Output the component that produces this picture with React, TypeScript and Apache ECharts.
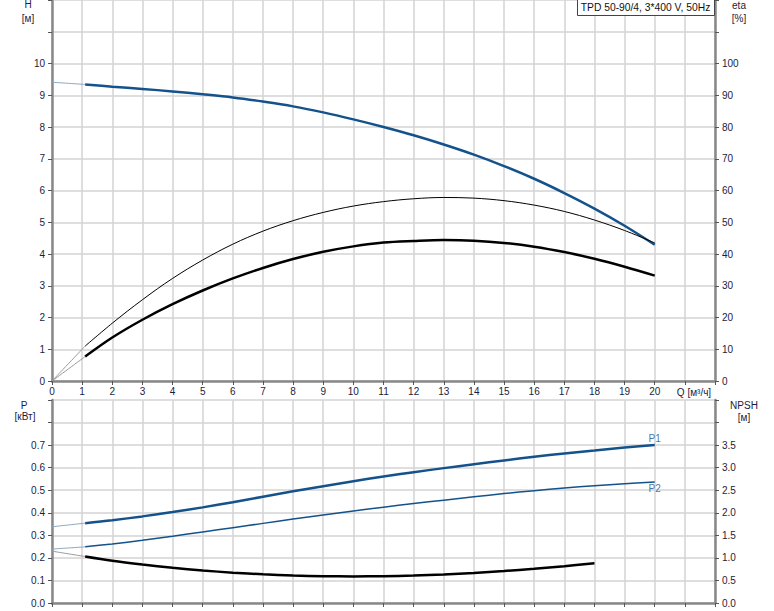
import React, { useEffect, useRef } from "react";
import * as echarts from "echarts";

// Flow axis (m³/h)
const Q_MAIN = [1.1, 2, 3, 4, 5, 6, 7, 8, 9, 10, 11, 12, 13, 14, 15, 16, 17, 18, 19, 20];
const Q_LOW = [0, 1.1];
const Q_NPSH = [1.1, 2, 3, 4, 5, 6, 7, 8, 9, 10, 11, 12, 13, 14, 15, 16, 17, 18];

// Head H [m]
const H_MAIN = [9.34, 9.27, 9.2, 9.12, 9.03, 8.93, 8.8, 8.65, 8.46, 8.24, 8.0, 7.74, 7.45, 7.13, 6.77, 6.37, 5.92, 5.43, 4.89, 4.29];
const H_LOW = [9.41, 9.34];

// Efficiency eta [%] – thin curve and thick curve
const ETA1_MAIN = [11, 18.2, 25.6, 32.3, 38.1, 43.1, 47.2, 50.5, 53.1, 55.1, 56.5, 57.4, 57.8, 57.6, 56.8, 55.4, 53.4, 50.7, 47.4, 43.5];
const ETA1_LOW = [0, 11];
const ETA2_MAIN = [7.7, 13.7, 19.3, 24.2, 28.5, 32.3, 35.6, 38.4, 40.7, 42.4, 43.6, 44.1, 44.4, 44.2, 43.5, 42.3, 40.6, 38.5, 36.0, 33.2];
const ETA2_LOW = [0, 7.7];

// Power P [kW]
const P1_MAIN = [0.354, 0.367, 0.384, 0.403, 0.424, 0.447, 0.471, 0.495, 0.518, 0.54, 0.561, 0.58, 0.598, 0.615, 0.632, 0.648, 0.663, 0.676, 0.689, 0.7];
const P1_LOW = [0.338, 0.354];
const P2_MAIN = [0.249, 0.262, 0.278, 0.296, 0.315, 0.334, 0.353, 0.372, 0.39, 0.408, 0.425, 0.441, 0.456, 0.471, 0.485, 0.498, 0.51, 0.52, 0.529, 0.537];
const P2_LOW = [0.239, 0.249];

// NPSH [m]
const NPSH_MAIN = [1.03, 0.935, 0.852, 0.781, 0.721, 0.673, 0.636, 0.61, 0.595, 0.59, 0.595, 0.61, 0.634, 0.667, 0.709, 0.759, 0.817, 0.883];
const NPSH_LOW = [1.149, 1.03];

const TITLE = "TPD 50-90/4, 3*400 V, 50Hz";

const BLUE = "#14528c";
const BLUE_LIGHT = "#8ea6c0";
const BLACK = "#000000";
const GREY_LIGHT = "#9a9a9a";
const TXT = "#1c1c3c";
const AXIS = "#888888";
const GRID = "#d3d3d3";
const FONT = "Liberation Sans, Arial, sans-serif";

const zip = (xs: number[], ys: number[]) => xs.map((x, i) => [x, ys[i]]);

export default function App() {
  const ref = useRef<HTMLDivElement>(null);
  useEffect(() => {
    if (!ref.current) return;
    const chart = echarts.init(ref.current, undefined, { renderer: "svg" });

    const axisLine = { show: true, lineStyle: { color: AXIS, width: 2.5 } };
    const axisTick = { show: true, length: 4, lineStyle: { color: "#555", width: 1 } };
    const splitLine = { show: true, lineStyle: { color: GRID, width: 1.5 } };
    const lbl = { color: TXT, fontSize: 10, fontFamily: FONT };

    const xCommon = {
      type: "value",
      min: 0,
      max: 22,
      interval: 1,
      axisLine,
      axisTick,
      splitLine,
    };

    const line = (
      name: string,
      xs: number[],
      ys: number[],
      color: string,
      width: number,
      xi: number,
      yi: number
    ) => ({
      name,
      type: "line",
      data: zip(xs, ys),
      xAxisIndex: xi,
      yAxisIndex: yi,
      smooth: 0.35,
      showSymbol: false,
      symbol: "none",
      lineStyle: { color, width },
      z: 3,
    });

    const option: any = {
      animation: false,
      textStyle: { fontFamily: FONT },
      grid: [
        { left: 52, right: 59, top: 0, height: 381 },
        { left: 52, right: 59, top: 400, height: 203 },
      ],
      xAxis: [
        {
          ...xCommon,
          gridIndex: 0,
          axisLabel: {
            ...lbl,
            margin: 5,
            showMaxLabel: true,
            formatter: (v: number) => (v <= 20 ? String(v) : ""),
          },
        },
        {
          ...xCommon,
          gridIndex: 1,
          axisLabel: { show: false },
        },
      ],
      yAxis: [
        {
          type: "value",
          gridIndex: 0,
          min: 0,
          max: 12,
          interval: 1,
          axisLine,
          axisTick,
          splitLine,
          axisLabel: { ...lbl, margin: 7, formatter: (v: number) => (v <= 10 ? String(v) : "") },
        },
        {
          type: "value",
          gridIndex: 0,
          position: "right",
          min: 0,
          max: 120,
          interval: 10,
          axisLine,
          axisTick,
          splitLine: { show: false },
          axisLabel: { ...lbl, margin: 7, formatter: (v: number) => (v <= 100 ? String(v) : "") },
        },
        {
          type: "value",
          gridIndex: 1,
          min: 0,
          max: 0.9,
          interval: 0.1,
          axisLine,
          axisTick,
          splitLine,
          axisLabel: {
            ...lbl,
            margin: 7,
            formatter: (v: number) => (v <= 0.75 ? v.toFixed(1) : ""),
          },
        },
        {
          type: "value",
          gridIndex: 1,
          position: "right",
          min: 0,
          max: 4.5,
          interval: 0.5,
          axisLine,
          axisTick,
          splitLine: { show: false },
          axisLabel: {
            ...lbl,
            margin: 7,
            formatter: (v: number) => (v <= 3.75 ? v.toFixed(1) : ""),
          },
        },
      ],
      series: [
        line("H low", Q_LOW, H_LOW, BLUE_LIGHT, 1, 0, 0),
        line("H", Q_MAIN, H_MAIN, BLUE, 2.5, 0, 0),
        line("eta1 low", Q_LOW, ETA1_LOW, GREY_LIGHT, 1, 0, 1),
        line("eta1", Q_MAIN, ETA1_MAIN, BLACK, 1, 0, 1),
        line("eta2 low", Q_LOW, ETA2_LOW, GREY_LIGHT, 1, 0, 1),
        line("eta2", Q_MAIN, ETA2_MAIN, BLACK, 2.5, 0, 1),
        line("P1 low", Q_LOW, P1_LOW, BLUE_LIGHT, 1, 1, 2),
        line("P1", Q_MAIN, P1_MAIN, BLUE, 2.5, 1, 2),
        line("P2 low", Q_LOW, P2_LOW, BLUE_LIGHT, 1, 1, 2),
        line("P2", Q_MAIN, P2_MAIN, BLUE, 1.5, 1, 2),
        line("NPSH low", Q_LOW, NPSH_LOW, GREY_LIGHT, 1, 1, 3),
        line("NPSH", Q_NPSH, NPSH_MAIN, BLACK, 2.5, 1, 3),
        {
          name: "labels",
          type: "scatter",
          xAxisIndex: 1,
          yAxisIndex: 2,
          symbolSize: 0,
          z: 5,
          data: [
            {
              value: [Q_MAIN[Q_MAIN.length - 1], P1_MAIN[P1_MAIN.length - 1]],
              label: { show: true, position: "top", distance: 2, formatter: "P1", color: BLUE, fontSize: 10, fontFamily: FONT },
            },
            {
              value: [Q_MAIN[Q_MAIN.length - 1], P2_MAIN[P2_MAIN.length - 1]],
              label: { show: true, position: "bottom", distance: 2, formatter: "P2", color: BLUE, fontSize: 10, fontFamily: FONT },
            },
          ],
        },
      ],
      graphic: [
        { type: "text", x: 28, y: 4, style: { text: "H", fill: TXT, font: `10px ${FONT}`, align: "center", verticalAlign: "middle" } },
        { type: "text", x: 28, y: 18, style: { text: "[м]", fill: TXT, font: `10px ${FONT}`, align: "center", verticalAlign: "middle" } },
        { type: "text", x: 739, y: 5, style: { text: "eta", fill: TXT, font: `10px ${FONT}`, align: "center", verticalAlign: "middle" } },
        { type: "text", x: 739, y: 18, style: { text: "[%]", fill: TXT, font: `10px ${FONT}`, align: "center", verticalAlign: "middle" } },
        { type: "text", x: 24, y: 405, style: { text: "P", fill: TXT, font: `10px ${FONT}`, align: "center", verticalAlign: "middle" } },
        { type: "text", x: 25, y: 416, style: { text: "[кВт]", fill: TXT, font: `10px ${FONT}`, align: "center", verticalAlign: "middle" } },
        { type: "text", x: 744, y: 405, style: { text: "NPSH", fill: TXT, font: `10px ${FONT}`, align: "center", verticalAlign: "middle" } },
        { type: "text", x: 744, y: 417, style: { text: "[м]", fill: TXT, font: `10px ${FONT}`, align: "center", verticalAlign: "middle" } },
        { type: "text", x: 694, y: 392, style: { text: "Q [м³/ч]", fill: TXT, font: `10px ${FONT}`, align: "center", verticalAlign: "middle" } },
        {
          type: "rect",
          shape: { x: 577.5, y: -1.5, width: 137, height: 17 },
          style: { fill: "#ffffff", stroke: "#444", lineWidth: 1 },
          z: 10,
        },
        {
          type: "text",
          x: 645.5,
          y: 7.5,
          z: 11,
          style: { text: TITLE, fill: "#111", font: `10.3px ${FONT}`, align: "center", verticalAlign: "middle" },
        },
      ],
    };

    chart.setOption(option);
    return () => chart.dispose();
  }, []);

  return (
    <div
      ref={ref}
      style={{ position: "fixed", left: 0, top: 0, width: 774, height: 611, background: "#fff" }}
    />
  );
}
